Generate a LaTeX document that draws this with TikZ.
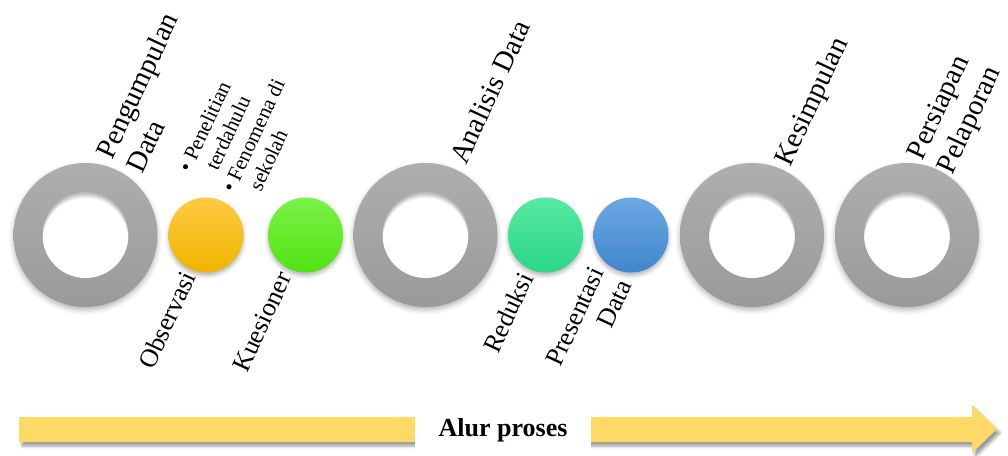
\documentclass[tikz,border=0pt]{standalone}
\usepackage{fontspec}
\setmainfont{Liberation Serif}
\usetikzlibrary{shadows.blur}

\definecolor{ringtop}{RGB}{174,174,174}
\definecolor{ringbot}{RGB}{154,154,154}
\definecolor{orangetop}{RGB}{255,202,64}
\definecolor{orangebot}{RGB}{238,180,0}
\definecolor{greentop}{RGB}{122,242,72}
\definecolor{greenbot}{RGB}{82,226,18}
\definecolor{tealtop}{RGB}{88,232,162}
\definecolor{tealbot}{RGB}{40,216,134}
\definecolor{bluetop}{RGB}{108,168,226}
\definecolor{bluebot}{RGB}{64,134,204}
\definecolor{flowyellow}{RGB}{255,217,102}

\tikzset{
  ring/.style={circle, minimum size=144pt, inner sep=0pt, draw=none,
    top color=ringtop, bottom color=ringbot,
    blur shadow={shadow xshift=0pt, shadow yshift=-3pt, shadow blur radius=5pt, shadow opacity=30},
    path picture={
      \coordinate (hc) at (path picture bounding box.center);
      \fill[white] (hc) circle (43pt);
      \begin{scope}
        \clip (hc) circle (43pt);
        \foreach \k in {1,...,6}{
          \fill[black, opacity=0.05, even odd rule] (hc) circle (50pt) ([yshift=-\k pt]hc) circle (43pt);
        }
      \end{scope}
    }},
  ball/.style={circle, minimum size=75pt, inner sep=0pt, draw=none,
    blur shadow={shadow xshift=0pt, shadow yshift=-3pt, shadow blur radius=4pt, shadow opacity=30}},
  biglabel/.style={font=\fontsize{28.5}{33}\selectfont, inner sep=0pt, rotate=65},
  sublabel/.style={font=\fontsize{26}{30}\selectfont, inner sep=0pt, rotate=65},
  bulletlabel/.style={font=\fontsize{21}{24}\selectfont, inner sep=0pt, rotate=65, align=left},
}

\begin{document}
\begin{tikzpicture}[x=1pt, y=-1pt]
  \useasboundingbox (0,0) rectangle (1008,455);

  % process flow arrow along the bottom
  \coordinate (tail top) at (19,417);
  \coordinate (tail bottom) at (19,442);
  \coordinate (tip) at (997,429);
  \fill[flowyellow, blur shadow={shadow xshift=3pt, shadow yshift=-4pt, shadow blur radius=3pt, shadow opacity=40}]
    (tail top) -- (972,417) -- (972,405) -- (tip) -- (972,453) -- (972,442) -- (tail bottom) -- cycle;
  \node[fill=white, minimum width=176pt, minimum height=50pt, inner sep=0pt,
        font=\bfseries\fontsize{26}{30}\selectfont] (flow) at (503,430) {Alur proses};

  % main stages (rings) and sub-steps (balls)
  \node[ring] (collect) at (85.5,235) {};
  \node[ball, top color=orangetop, bottom color=orangebot] (obs) at (206,235) {};
  \node[ball, top color=greentop, bottom color=greenbot] (quest) at (305.5,235) {};
  \node[ring] (analyse) at (425.5,235) {};
  \node[ball, top color=tealtop, bottom color=tealbot] (reduce) at (545.5,235) {};
  \node[ball, top color=bluetop, bottom color=bluebot] (present) at (631,235) {};
  \node[ring] (conclude) at (752,235) {};
  \node[ring] (report) at (907,235) {};

  % stage labels above
  \node[biglabel, align=left, anchor=south west] (collect label) at (143,175) {Pengumpulan\\Data};
  \node[bulletlabel, anchor=south west] (source label) at (256,204)
    {•\ Penelitian\\\hphantom{•\ }terdahulu\\•\ Fenomena di\\\hphantom{•\ }sekolah};
  \node[biglabel, anchor=base west] (analyse label) at (466,166) {Analisis Data};
  \node[biglabel, anchor=base west] (conclude label) at (790,168) {Kesimpulan};
  \node[biglabel, align=left, anchor=south west] (report label) at (958,178) {Persiapan\\Pelaporan};

  % sub-step labels below
  \node[sublabel, anchor=base west] (obs label) at (153,371) {Observasi};
  \node[sublabel, anchor=base west] (quest label) at (247,374) {Kuesioner};
  \node[sublabel, anchor=base west] (reduce label) at (498,355) {Reduksi};
  \node[sublabel, align=right, anchor=south west] (present label) at (588,381) {Presentasi\\Data};
\end{tikzpicture}
\end{document}
